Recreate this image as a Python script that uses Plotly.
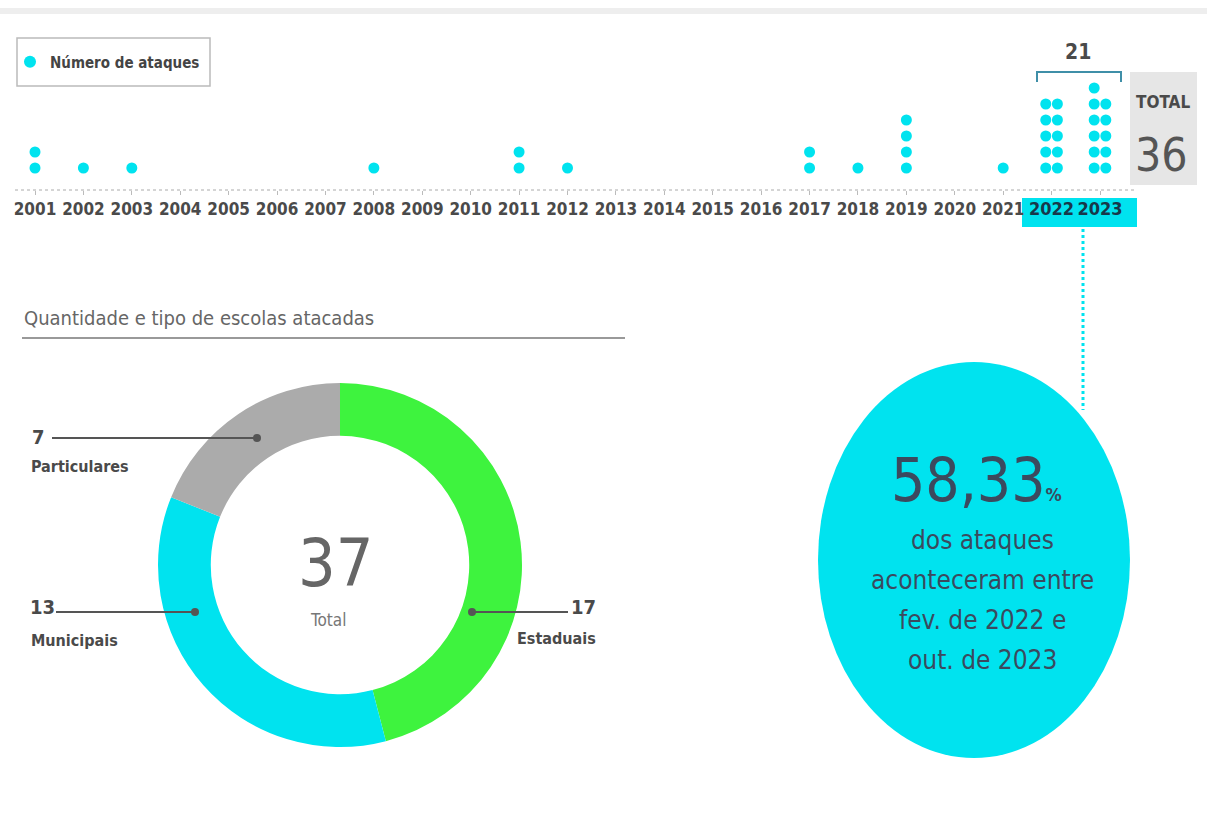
import plotly.graph_objects as go

W, H = 1207, 821

# --- data ---
years = [2001, 2002, 2003, 2004, 2005, 2006, 2007, 2008, 2009, 2010, 2011, 2012,
         2013, 2014, 2015, 2016, 2017, 2018, 2019, 2020, 2021, 2022, 2023]
attacks = [2, 1, 1, 0, 0, 0, 0, 1, 0, 0, 2, 1,
           0, 0, 0, 0, 2, 1, 4, 0, 1, 10, 11]
highlight_years = [2022, 2023]
highlight_count = "21"
total_attacks = "36"

school_types = ["Estaduais", "Municipais", "Particulares"]
school_counts = [17, 13, 7]
school_total = "37"

share_text = "58,33"
share_lines = ["dos ataques", "aconteceram entre", "fev. de 2022 e", "out. de 2023"]

CYAN = "#00e3ef"
GREEN = "#3ef33e"
GRAY = "#ababab"
TXT = "#4a4a4a"
FONT = "DejaVu Sans Condensed, Liberation Sans Narrow, Roboto, sans-serif"


def px(x):
    return x / W


def py(y):
    return 1 - y / H


# dot positions: one column up to 5, two columns beyond
dot_x, dot_y = [], []
off = 0.12
for yr, n in zip(years, attacks):
    for k in range(n):
        if n > 5:
            dot_x.append(yr + (-off if k % 2 == 0 else off))
            dot_y.append(k // 2 + 1)
        else:
            dot_x.append(yr)
            dot_y.append(k + 1)

fig = go.Figure()

fig.add_trace(go.Scatter(
    x=dot_x, y=dot_y, mode="markers", name="Número de ataques",
    marker=dict(color=CYAN, size=11), xaxis="x", yaxis="y",
    showlegend=True, hoverinfo="x"
))

# pie geometry
cx, cy, r = 340, 565, 182
fig.add_trace(go.Pie(
    labels=school_types, values=school_counts, hole=0.71, sort=False,
    direction="clockwise", rotation=0, textinfo="none",
    marker=dict(colors=[GREEN, CYAN, GRAY], line=dict(width=0)),
    domain=dict(x=[px(cx - r), px(cx + r)], y=[py(cy + r), py(cy - r)]),
    showlegend=False
))

ticktext = []
for yr in years:
    if yr in highlight_years:
        ticktext.append(f"<span style='font-size:18px;color:#17384a'>{yr}</span>")
    else:
        ticktext.append(str(yr))

s = (1100 - 35) / 22
r0 = 2001 - 35 / s
r1 = r0 + W / s

shapes = [
    # top band
    dict(type="rect", xref="paper", yref="paper", x0=0, x1=1, y0=py(14), y1=py(8),
         fillcolor="#eeeeee", line=dict(width=0), layer="below"),
    # legend frame
    dict(type="rect", xref="paper", yref="paper", x0=px(17), x1=px(210),
         y0=py(86), y1=py(38), line=dict(color="#bbbbbb", width=1.5)),
    # highlight box under 2022/2023 labels
    dict(type="rect", xref="paper", yref="paper", x0=px(1022), x1=px(1137),
         y0=py(227), y1=py(198), fillcolor=CYAN, line=dict(width=0), layer="below"),
    # dotted axis line
    dict(type="line", xref="paper", yref="paper", x0=px(15), x1=px(1137),
         y0=py(190), y1=py(190), line=dict(color="#aaaaaa", width=1, dash="dot")),
    # bracket over 2022-2023
    dict(type="path", xref="paper", yref="paper",
         path=f"M {px(1037)} {py(82)} L {px(1037)} {py(72)} L {px(1121)} {py(72)} L {px(1121)} {py(82)}",
         line=dict(color="#3f8fa8", width=2)),
    # total box
    dict(type="rect", xref="paper", yref="paper", x0=px(1130), x1=px(1197),
         y0=py(185), y1=py(72), fillcolor="#e6e6e6", line=dict(width=0), layer="below"),
    # dotted connector to ellipse
    dict(type="line", xref="paper", yref="paper", x0=px(1083), x1=px(1083),
         y0=py(229), y1=py(410), line=dict(color=CYAN, width=3, dash="dot")),
    # ellipse
    dict(type="circle", xref="paper", yref="paper", x0=px(818), x1=px(1130),
         y0=py(758), y1=py(362), fillcolor=CYAN, line=dict(width=0)),
    # section underline
    dict(type="line", xref="paper", yref="paper", x0=px(22), x1=px(625),
         y0=py(338), y1=py(338), line=dict(color="#999999", width=2)),
    # leader lines
    dict(type="line", xref="paper", yref="paper", x0=px(52), x1=px(257),
         y0=py(438), y1=py(438), line=dict(color="#555555", width=2)),
    dict(type="line", xref="paper", yref="paper", x0=px(56), x1=px(195),
         y0=py(612), y1=py(612), line=dict(color="#555555", width=2)),
    dict(type="line", xref="paper", yref="paper", x0=px(472), x1=px(568),
         y0=py(612), y1=py(612), line=dict(color="#555555", width=2)),
]
for x0, y0 in [(257, 438), (195, 612), (472, 612)]:
    shapes.append(dict(type="circle", xref="paper", yref="paper",
                       x0=px(x0 - 4), x1=px(x0 + 4), y0=py(y0 + 4), y1=py(y0 - 4),
                       fillcolor="#555555", line=dict(width=0)))


def note(text, x, y, size, color=TXT, xanchor="center"):
    return dict(text=text, x=px(x), y=py(y), xref="paper", yref="paper",
                xanchor=xanchor, yanchor="middle", showarrow=False,
                font=dict(family=FONT, size=size, color=color))


annotations = [
    note(f"<b>{highlight_count}</b>", 1078, 52, 21),
    note("<b>TOTAL</b>", 1163, 102, 17),
    note(total_attacks, 1161, 155, 46, color="#555555"),
    note("Quantidade e tipo de escolas atacadas", 22, 318, 20, color="#666666", xanchor="left"),
    note("<b>7</b>", 30, 437, 20, xanchor="left"),
    note("<b>Particulares</b>", 29, 466, 16, xanchor="left"),
    note("<b>13</b>", 28, 607, 20, xanchor="left"),
    note("<b>Municipais</b>", 29, 640, 16, xanchor="left"),
    note("<b>17</b>", 598, 607, 20, xanchor="right"),
    note("<b>Estaduais</b>", 598, 638, 16, xanchor="right"),
    note(school_total, 336, 563, 66, color="#666666"),
    note("Total", 328, 620, 17, color="#777777"),
    note(f"{share_text}<b><span style='font-size:18px'>%</span></b>", 976, 480, 60, color="#3b4a5e"),
]
for i, line in enumerate(share_lines):
    annotations.append(note(line, 982, 540 + 40 * i, 26, color="#3b4a5e"))

fig.update_layout(
    width=W, height=H, margin=dict(l=0, r=0, t=0, b=0),
    paper_bgcolor="white", plot_bgcolor="white",
    font=dict(family=FONT, color=TXT),
    xaxis=dict(domain=[0, 1], range=[r0, r1], tickmode="array", tickvals=years,
               ticktext=ticktext, tickangle=0, showgrid=False, zeroline=False,
               showline=False, ticks="outside", ticklen=4, tickcolor="#bbbbbb",
               tickfont=dict(family=FONT, size=17, color="#4a4a4a", weight="bold"),
               fixedrange=True),
    yaxis=dict(domain=[py(190), py(40)], range=[-0.375, 9], visible=False,
               fixedrange=True),
    legend=dict(x=px(10), y=py(62), xanchor="left", yanchor="middle",
                borderwidth=0, bgcolor="rgba(0,0,0,0)",
                font=dict(family=FONT, size=15, color="#444444", weight="bold"),
                itemsizing="constant"),
    shapes=shapes, annotations=annotations,
)

fig.write_html("out.html", config={"displayModeBar": False},
               post_script="document.body.style.margin='0px';")
